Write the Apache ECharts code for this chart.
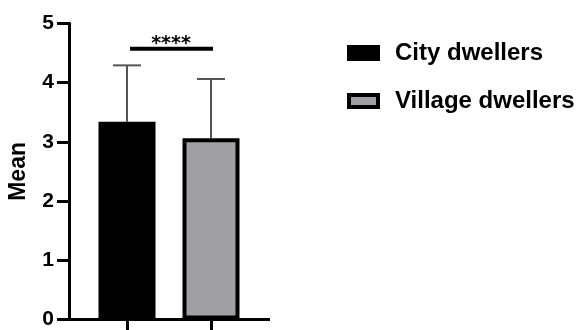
<!DOCTYPE html>
<html>
<head>
<meta charset="utf-8">
<script src="https://cdn.jsdelivr.net/npm/echarts@6/dist/echarts.min.js"></script>
<style>
  html, body { margin: 0; padding: 0; background: #fff; }
  #chart { width: 582px; height: 330px; }
</style>
</head>
<body>
<div id="chart"></div>
<script>
// Group means with their standard deviations
const groups = ['City dwellers', 'Village dwellers'];
const means = [3.34, 3.06];
const sds = [0.95, 1.00];
const fills = ['#000000', '#a09fa3'];
const yTicks = [0, 1, 2, 3, 4, 5];
// Significance bracket between the two groups
const sigLevel = [4.57];
const sigLabel = '****';

const FONT = '"Liberation Sans", Arial, sans-serif';
const chart = echarts.init(document.getElementById('chart'), null, { renderer: 'canvas' });

const gridLeft = 85, axisOffset = 16, tickLen = 12;

const barSeries = groups.map((g, i) => ({
  name: g,
  type: 'bar',
  barWidth: 57,
  barGap: '-100%',
  data: groups.map((_, j) => (j === i ? means[i] : '-')),
  itemStyle: { color: fills[i], borderColor: '#000', borderWidth: 4 },
  z: 2
}));

const option = {
  backgroundColor: '#fff',
  animation: false,
  grid: { left: gridLeft, width: 168, top: 23.3, bottom: 10 },
  legend: {
    left: 347, top: 41,
    padding: 0,
    orient: 'vertical',
    itemWidth: 29, itemHeight: 12, itemGap: 24,
    icon: 'rect',
    itemStyle: { borderWidth: 4, borderColor: '#000' },
    textStyle: { fontFamily: FONT, fontWeight: 'bold', fontSize: 24, lineHeight: 20, color: '#000', padding: [0, 0, 0, 12] },
    data: groups
  },
  xAxis: {
    type: 'category',
    data: groups,
    axisLine: { show: false },
    axisTick: { show: true, interval: 0, alignWithLabel: true, length: tickLen, lineStyle: { color: '#000', width: 3 } },
    axisLabel: { show: false, interval: 0 },
    splitLine: { show: false }
  },
  yAxis: {
    type: 'value',
    min: yTicks[0], max: yTicks[yTicks.length - 1], interval: 1,
    offset: axisOffset,
    name: 'Mean',
    nameLocation: 'middle',
    nameGap: 39,
    nameTextStyle: { fontFamily: FONT, fontWeight: 'bold', fontSize: 23, color: '#000' },
    axisLine: { show: true, lineStyle: { color: '#000', width: 3 } },
    axisTick: { show: true, length: tickLen, lineStyle: { color: '#000', width: 3 } },
    axisLabel: { margin: 15, fontFamily: FONT, fontWeight: 'bold', fontSize: 21, color: '#000' },
    splitLine: { show: false }
  },
  series: [
    ...barSeries,
    {
      // upper error whiskers
      type: 'custom',
      z: 1,
      data: means.map((m, i) => [i, m, m + sds[i]]),
      renderItem: (params, api) => {
        const base = api.coord([api.value(0), api.value(1)]);
        const top = api.coord([api.value(0), api.value(2)]);
        const half = 14;
        return {
          type: 'group',
          children: [
            { type: 'line', shape: { x1: base[0], y1: base[1], x2: top[0], y2: top[1] }, style: { stroke: '#555', lineWidth: 2 } },
            { type: 'line', shape: { x1: top[0] - half, y1: top[1], x2: top[0] + half, y2: top[1] }, style: { stroke: '#555', lineWidth: 2 } }
          ]
        };
      }
    },
    {
      // significance bar with stars
      type: 'custom',
      z: 3,
      data: sigLevel.map(v => [0, 1, v]),
      renderItem: (params, api) => {
        const a = api.coord([api.value(0), api.value(2)]);
        const b = api.coord([api.value(1), api.value(2)]);
        return {
          type: 'group',
          children: [
            { type: 'line', shape: { x1: a[0] + 3, y1: a[1], x2: b[0] + 2, y2: b[1] }, style: { stroke: '#000', lineWidth: 4 } },
            { type: 'text', style: { x: (a[0] + b[0]) / 2 + 2, y: a[1] + 5, text: sigLabel, align: 'center', verticalAlign: 'bottom', font: 'bold 19px "DejaVu Sans"', fill: '#000' } }
          ]
        };
      }
    }
  ]
};

chart.setOption(option);

// Baseline spanning from the y-axis tick ends across the plot
const y0 = chart.convertToPixel({ yAxisIndex: 0 }, 0);
const axisX = gridLeft - axisOffset;
chart.setOption({
  graphic: [{
    type: 'line',
    shape: { x1: axisX - tickLen, y1: y0, x2: 270, y2: y0 },
    style: { stroke: '#000', lineWidth: 3 },
    z: 10
  }]
});
</script>
</body>
</html>
